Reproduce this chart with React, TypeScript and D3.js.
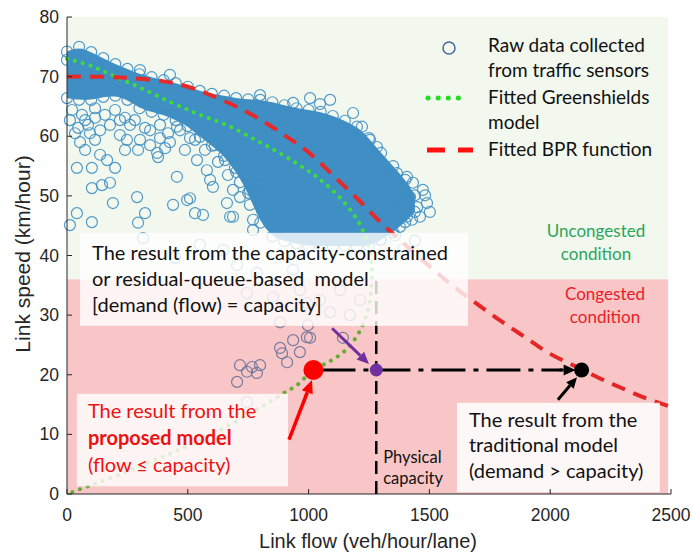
import React from "react";
import * as d3 from "d3";

const W = 693;
const H = 555;

const xTicks = [0, 500, 1000, 1500, 2000, 2500];
const yTicks = [0, 10, 20, 30, 40, 50, 60, 70, 80];

// dense core of the sensor cloud: [flow, upper speed, lower speed]
const denseBand = [
  [0, 74.2, 66.4], [50, 75.0, 66.1], [100, 74.1, 66.1], [150, 73.1, 66.6],
  [200, 72.1, 66.8], [250, 71.3, 66.1], [300, 70.4, 64.7], [350, 69.9, 64.1],
  [400, 69.4, 63.6], [450, 68.9, 62.7], [500, 68.3, 61.7], [550, 67.6, 59.9],
  [600, 67.1, 58.4], [650, 66.8, 56.7], [700, 66.4, 54.0], [750, 66.2, 50.5],
  [800, 66.1, 45.5], [850, 65.7, 43.2], [900, 65.2, 42.4], [950, 64.7, 42.0],
  [1000, 64.4, 41.6], [1050, 64.1, 41.6], [1100, 63.4, 41.6], [1150, 62.6, 41.6],
  [1200, 61.6, 41.6], [1250, 59.7, 41.6], [1300, 57.2, 42.6], [1350, 55.0, 43.9],
  [1400, 52.7, 45.6], [1440, 50.1, 47.3],
];

// single sensor readings outside the dense core: [flow, speed]
const rawPoints = [
  [33, 60.5], [54, 59.0], [95, 60.5], [137, 61.0], [116, 59.4], [75, 57.7],
  [137, 56.9], [166, 56.0], [41, 54.7], [103, 54.7], [199, 54.7], [103, 51.3],
  [145, 51.8], [178, 52.2], [190, 48.8], [41, 47.1], [103, 45.6], [12, 45.1],
  [248, 59.4], [294, 57.7], [290, 49.8], [323, 47.1], [294, 45.5], [377, 56.5],
  [344, 61.0], [426, 59.0], [455, 53.2], [509, 49.6], [439, 48.5], [530, 47.1],
  [538, 56.0], [579, 54.3], [604, 51.5], [662, 48.8], [687, 51.0], [716, 49.8],
  [675, 46.5], [625, 55.7], [455, 61.6], [385, 59.7], [509, 59.7], [315, 42.9],
  [497, 49.3], [563, 46.8], [687, 46.5], [770, 44.3], [770, 46.0], [373, 57.2],
  [302, 59.4], [219, 62.7], [75, 62.7], [261, 61.9], [116, 63.1], [790, 50.5],
  [807, 47.6], [757, 48.5],
  [21, 64.4], [62, 63.6], [116, 64.7], [157, 63.6], [199, 64.4], [240, 63.1],
  [12, 62.7], [87, 61.9], [178, 61.9], [46, 61.4], [281, 62.7], [323, 61.4],
  [385, 61.9], [418, 60.5], [468, 61.0], [530, 59.4], [571, 57.7], [612, 58.5],
  [654, 56.0], [695, 54.7], [737, 53.5], [666, 53.5], [592, 52.7], [757, 51.0],
  [716, 52.3], [488, 57.7], [406, 58.0], [344, 58.5], [240, 57.7], [219, 60.2],
  [799, 51.8], [840, 49.3],
  [646, 40.9], [704, 38.4], [786, 37.1], [745, 33.7], [853, 33.0], [936, 37.6],
  [964, 34.2], [993, 32.0], [550, 41.8], [447, 39.6], [1047, 32.5], [1130, 34.2],
  [1213, 32.5], [1089, 30.5], [1171, 30.0], [1330, 40.2], [1390, 41.0], [1440, 42.5],
  [882, 24.5], [936, 25.8], [993, 26.3], [716, 21.6], [766, 21.3], [799, 21.6],
  [745, 20.5], [786, 20.3], [704, 18.8], [890, 23.6], [911, 22.1], [964, 23.8],
  [1006, 26.2], [997, 28.3], [882, 28.8], [1142, 26.2], [745, 15.4],
  [1308, 54.0], [1366, 53.8], [1407, 53.2], [1432, 52.2], [1473, 51.0], [1490, 48.8],
  [1449, 48.1], [1407, 46.5], [1461, 46.5], [1378, 44.8], [1337, 47.6], [1366, 49.3],
  [1420, 49.8], [1254, 56.5], [1184, 63.9], [1221, 61.6], [1254, 59.4], [1283, 58.2],
  [1428, 46.0], [1502, 47.3], [1482, 50.1], [1329, 51.8], [1358, 43.4], [1296, 42.6],
  [799, 66.9], [936, 65.6], [426, 70.3], [302, 71.1], [0, 72.8], [1089, 66.1],
  [1006, 66.4], [1047, 65.4],
];

// fitted Greenshields speed-flow curve, upper branch then lower branch
const greenshields = [
  [0, 73], [100, 71.8], [200, 70], [300, 68.2], [430, 65.7], [550, 63.6],
  [660, 61.9], [770, 59.6], [870, 57.4], [960, 55.2], [1040, 53], [1110, 50.5],
  [1170, 47.8], [1215, 45], [1245, 42], [1260, 38.5], [1262, 36.5], [1255, 33],
  [1235, 29.5], [1200, 26.5], [1150, 24], [1090, 22.3], [1020, 20.8], [950, 18.2],
  [900, 17], [780, 14], [600, 10], [440, 7], [320, 5], [200, 3], [100, 1.5], [0, 0],
];

// fitted BPR function
const bprCurve = [
  [0, 70], [200, 69.9], [400, 69.2], [500, 68.3], [600, 66.8], [700, 65],
  [800, 62.8], [900, 60.2], [1000, 57.3], [1100, 53.5], [1200, 49.6], [1300, 45.5],
  [1400, 41.8], [1500, 38.2], [1600, 34.8], [1700, 31.8], [1800, 28.9], [1900, 26.2],
  [2000, 23.5], [2100, 21.5], [2200, 19.5], [2300, 17.7], [2400, 16.0], [2500, 14.6],
];

const congestedSpeed = 36;
const capacityFlow = 1280;
const resultSpeed = 20.8;
const proposedFlow = 1020;
const traditionalFlow = 2130;

const capLines = ["The result from the capacity-constrained", "or residual-queue-based  model", "[demand (flow) = capacity]"];
const tradLines = ["The result from the", "traditional model", "(demand > capacity)"];

const TXT = "Lato, 'Open Sans', sans-serif";
const AX = "'Liberation Sans', Arial, sans-serif";

const x = d3.scaleLinear().domain([0, 2500]).range([67, 671]);
const y = d3.scaleLinear().domain([0, 80]).range([494, 17]);

function Arrow({ x1, y1, x2, y2, color, width = 3, head = 12 }: any) {
  const a = Math.atan2(y2 - y1, x2 - x1);
  const bx = x2 - head * Math.cos(a);
  const by = y2 - head * Math.sin(a);
  const hw = head * 0.45;
  const p = [
    [x2, y2],
    [bx + hw * Math.sin(a), by - hw * Math.cos(a)],
    [bx - hw * Math.sin(a), by + hw * Math.cos(a)],
  ];
  return (
    <g>
      <line x1={x1} y1={y1} x2={bx} y2={by} stroke={color} strokeWidth={width} />
      <polygon points={p.map((d) => d.join(",")).join(" ")} fill={color} />
    </g>
  );
}

export default function App() {
  const band = d3
    .area<number[]>()
    .x((d) => x(d[0]))
    .y0((d) => y(d[2]))
    .y1((d) => y(d[1]))
    .curve(d3.curveBasis);
  const line = d3
    .line<number[]>()
    .x((d) => x(d[0]))
    .y((d) => y(d[1]))
    .curve(d3.curveCatmullRom.alpha(0.5));

  const edgePts = denseBand.flatMap((d) => [[d[0], d[1]], [d[0], d[2]]]);
  const blue = "#3f8ec4";

  return (
    <div style={{ position: "absolute", left: 0, top: 0 }}>
      <svg width={W} height={H} style={{ display: "block", background: "#fff" }}>
        {/* uncongested region */}
        <rect x={x(0)} y={y(80)} width={x(2488) - x(0)} height={y(congestedSpeed) - y(80)} fill="#f2f8ee" />

        {/* raw data */}
        <path d={band(denseBand) || ""} fill={blue} />
        {edgePts.concat(rawPoints).map((d, i) => (
          <circle key={i} cx={x(d[0])} cy={y(d[1])} r={5.5} fill="none" stroke={blue} strokeWidth={1.2} opacity={0.9} />
        ))}

        {/* fitted curves */}
        <path d={line(greenshields) || ""} fill="none" stroke="#3ddc3d" strokeWidth={4} strokeDasharray="0.1 8" strokeLinecap="round" />
        <path d={line(bprCurve) || ""} fill="none" stroke="#e62a2a" strokeWidth={4} strokeDasharray="14 9" />

        {/* congested region, laid over the data */}
        <rect x={x(0)} y={y(congestedSpeed)} width={x(2488) - x(0)} height={y(0) - y(congestedSpeed)} fill="#e31b1b" fillOpacity={0.25} />

        {/* capacity and result lines */}
        <line x1={x(capacityFlow)} x2={x(capacityFlow)} y1={y(0)} y2={y(congestedSpeed)} stroke="#000" strokeWidth={2.5} strokeDasharray="13 7" />
        <line x1={x(proposedFlow) + 8} x2={x(traditionalFlow) - 20} y1={y(resultSpeed)} y2={y(resultSpeed)} stroke="#000" strokeWidth={3} strokeDasharray="34 8 5 8" />
        <Arrow x1={x(traditionalFlow) - 22} y1={y(resultSpeed)} x2={x(traditionalFlow) - 6} y2={y(resultSpeed)} color="#000" width={3} head={12} />

        {/* annotation boxes */}
        <rect x={x(54)} y={y(43.8)} width={x(1660) - x(54)} height={y(28.2) - y(43.8)} fill="#fff" opacity={0.8} />
        <rect x={x(41)} y={y(16.8)} width={x(915) - x(41)} height={y(1.3) - y(16.8)} fill="#fff" opacity={0.8} />
        <rect x={x(1614)} y={y(15.3)} width={x(2454) - x(1614)} height={y(0.3) - y(15.3)} fill="#fff" opacity={0.85} />

        <g fontFamily={TXT} fontSize={20} fill="#111">
          {capLines.map((t, i) => (
            <text key={i} xmlSpace="preserve" style={{ whiteSpace: "pre" }} x={x(54) + 12} y={y(43.8) + 27 + i * 26}>{t}</text>
          ))}
          {tradLines.map((t, i) => (
            <text key={i} x={x(1614) + 12} y={y(15.3) + 24 + i * 25.5}>{t}</text>
          ))}
          <g fill="#ee1111">
            <text x={x(41) + 11} y={y(16.8) + 24}>The result from the</text>
            <text x={x(41) + 11} y={y(16.8) + 51} fontWeight="bold">proposed model</text>
            <text x={x(41) + 11} y={y(16.8) + 78}>(flow ≤ capacity)</text>
          </g>
        </g>
        <g fontFamily={TXT} fontSize={16.5} fill="#111">
          <text x={x(capacityFlow) + 7} y={463}>Physical</text>
          <text x={x(capacityFlow) + 7} y={484}>capacity</text>
        </g>
        <g fontFamily={TXT} fontSize={17} textAnchor="middle">
          <text x={596} y={237} fill="#2aa55a">Uncongested</text>
          <text x={596} y={260} fill="#2aa55a">condition</text>
          <text x={605} y={300} fill="#e8202a">Congested</text>
          <text x={605} y={323} fill="#e8202a">condition</text>
        </g>

        {/* result points and arrows */}
        <circle cx={x(proposedFlow)} cy={y(resultSpeed)} r={10} fill="#ff0000" />
        <circle cx={x(capacityFlow)} cy={y(resultSpeed)} r={6.5} fill="#7030a0" />
        <circle cx={x(traditionalFlow)} cy={y(resultSpeed)} r={7.5} fill="#000" />
        <Arrow x1={x(919)} y1={y(9.1)} x2={x(1014)} y2={y(19.1)} color="#ff0000" width={3.5} head={13} />
        <Arrow x1={x(1097)} y1={y(27.8)} x2={x(1250)} y2={y(21.8)} color="#7030a0" width={3} head={12} />
        <Arrow x1={x(2032)} y1={y(15.8)} x2={x(2111)} y2={y(19.6)} color="#000" width={3} head={11} />

        {/* axes */}
        <g stroke="#262626" strokeWidth={1}>
          <line x1={x(0)} x2={x(0)} y1={y(0)} y2={y(80)} />
          <line x1={x(0)} x2={x(2500)} y1={y(0)} y2={y(0)} />
          {yTicks.map((t) => (
            <line key={t} x1={x(0)} x2={x(0) + 5} y1={y(t)} y2={y(t)} />
          ))}
          {xTicks.map((t) => (
            <line key={t} x1={x(t)} x2={x(t)} y1={y(0)} y2={y(0) - 5} />
          ))}
        </g>
        <g fontFamily={AX} fontSize={17.5} fill="#262626">
          {yTicks.map((t) => (
            <text key={t} x={x(0) - 8} y={y(t) + 6} textAnchor="end">{t}</text>
          ))}
          {xTicks.map((t) => (
            <text key={t} x={x(t)} y={521} textAnchor="middle">{t}</text>
          ))}
          <text x={368} y={548} textAnchor="middle" fontSize={20}>Link flow (veh/hour/lane)</text>
          <text transform="translate(30,254) rotate(-90)" textAnchor="middle" fontSize={21}>Link speed (km/hour)</text>
        </g>

        {/* legend */}
        <circle cx={449} cy={48} r={6} fill="none" stroke="#44689c" strokeWidth={1.5} />
        <line x1={428} x2={468} y1={98} y2={98} stroke="#22dd22" strokeWidth={5} strokeDasharray="0.1 10" strokeLinecap="round" />
        <line x1={427} x2={473} y1={150} y2={150} stroke="#ff1111" strokeWidth={5} strokeDasharray="18 13" />
        <g fontFamily={TXT} fontSize={19} fill="#111">
          <text x={488} y={52}>Raw data collected</text>
          <text x={488} y={77}>from traffic sensors</text>
          <text x={488} y={104}>Fitted Greenshields</text>
          <text x={488} y={129}>model</text>
          <text x={488} y={156}>Fitted BPR function</text>
        </g>
      </svg>
    </div>
  );
}
